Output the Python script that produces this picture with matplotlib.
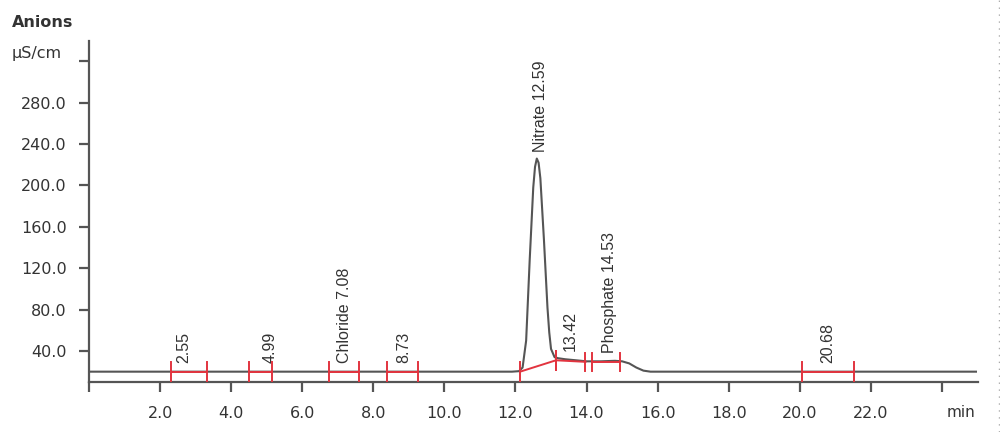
import numpy as np
import matplotlib
matplotlib.use("Agg")
import matplotlib.pyplot as plt
from matplotlib.lines import Line2D

# conductivity trace (min, uS/cm)
time = [0.0, 11.9, 12.1, 12.2, 12.3, 12.4, 12.5, 12.55, 12.6, 12.65, 12.7, 12.8, 12.9, 12.95,
        13.0, 13.1, 13.2, 13.4, 13.7, 14.0, 14.4, 14.8, 15.0, 15.2, 15.4, 15.6, 15.8, 16.0, 25.0]
signal = [20, 20, 20.5, 24, 50, 128, 198, 218, 226, 222, 207, 148, 82, 58,
          42, 34, 33, 32, 31, 30, 30, 30.5, 30, 28, 24, 21, 20, 20, 20]

# integration segments
seg_start = [2.30, 4.51, 6.74, 8.39, 12.13, 13.14, 14.15, 20.05]
seg_end = [3.33, 5.16, 7.61, 9.27, 13.14, 13.97, 14.93, 21.52]
seg_y0 = [20, 20, 20, 20, 20, 31, 29.5, 20]
seg_y1 = [20, 20, 20, 20, 31, 29.5, 29.5, 20]

# peak labels
peak_rt = [2.55, 4.99, 7.08, 8.73, 12.59, 13.42, 14.53, 20.68]
peak_labels = ["2.55", "4.99", "Chloride 7.08", "8.73", "Nitrate 12.59", "13.42",
               "Phosphate 14.53", "20.68"]

xticks = [0, 2, 4, 6, 8, 10, 12, 14, 16, 18, 20, 22, 24]
yticks = [40, 80, 120, 160, 200, 240, 280, 320]

txt = "#333333"
red = "#e2343f"

fig = plt.figure(figsize=(10, 4.32), dpi=100)
ax = fig.add_axes([0.089, 0.1157, 0.8885, 0.7903])

ax.plot(time, signal, color="#555555", lw=1.5, zorder=3)

for s, e, a, b in zip(seg_start, seg_end, seg_y0, seg_y1):
    ax.plot([s, e], [a, b], color=red, lw=1.4, zorder=4)
    ax.plot([s, s], [a - 9, a + 9], color=red, lw=1.4, zorder=4)
    ax.plot([e, e], [b - 9, b + 9], color=red, lw=1.4, zorder=4)

for rt, lab in zip(peak_rt, peak_labels):
    yv = np.interp(rt, time, signal)
    ax.annotate(lab, (rt, yv), xytext=(3, 6), textcoords="offset points",
                rotation=90, ha="center", va="bottom", fontsize=11.5,
                family="Liberation Sans", color=txt)

ax.set_xlim(0, 25)
ax.set_ylim(10, 340)
ax.set_xticks(xticks)
ax.set_xticklabels(["" if v in (0, 24) else f"{v:.1f}" for v in xticks])
ax.set_yticks(yticks)
ax.set_yticklabels(["" if v == 320 else f"{v:.1f}" for v in yticks])

for side in ("top", "right"):
    ax.spines[side].set_visible(False)
for side in ("left", "bottom"):
    ax.spines[side].set_color("#555555")
    ax.spines[side].set_linewidth(1.6)
ax.tick_params(axis="both", colors="#555555", width=1.6, length=7, labelcolor=txt,
               labelsize=11.5)
ax.tick_params(axis="x", pad=10)
ax.tick_params(axis="y", pad=9)

fig.text(0.012, 0.947, "Anions", fontsize=11.5, fontweight="bold", color=txt, va="center")
fig.text(0.012, 0.877, "µS/cm", fontsize=11.5, color=txt, va="center")
fig.text(0.961, 0.046, "min", fontsize=11, color=txt, va="center", ha="center")

# dotted border at the right edge
fig.add_artist(Line2D([0.9985, 0.9985], [0.0, 1.0], transform=fig.transFigure,
                      color="#aaaaaa", lw=1, ls=(0, (1, 4))))

fig.savefig("out.png", dpi=100)
